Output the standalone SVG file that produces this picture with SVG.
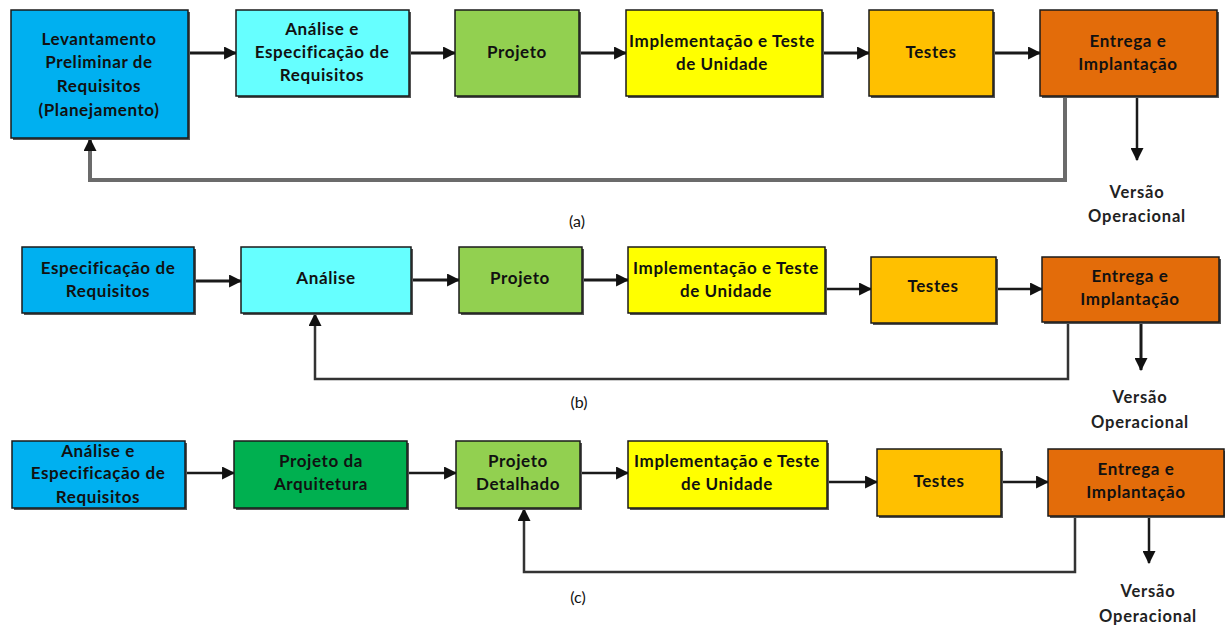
<svg xmlns="http://www.w3.org/2000/svg" width="1225" height="625" viewBox="0 0 1225 625">
  <style>
    .box { stroke: #1a1a1a; stroke-width: 1.5; }
    .shadow { fill: #555; }
    .lbl { font-family: Lato, "Liberation Sans", sans-serif; font-weight: 700; font-size: 17px; letter-spacing: 0.6px; fill: #111; text-anchor: middle; }
    .cap { font-family: Lato, "Liberation Sans", sans-serif; font-weight: 400; font-size: 16px; fill: #111; text-anchor: middle; }
    .out { font-family: Lato, "Liberation Sans", sans-serif; font-weight: 700; font-size: 16.5px; letter-spacing: 0.8px; fill: #222; text-anchor: middle; }
    .flow { fill: none; stroke: #1a1a1a; stroke-width: 3; marker-end: url(#arrow); }
    .flow2 { fill: none; stroke: #1a1a1a; stroke-width: 2.5; marker-end: url(#arrow); }
    .back { fill: none; stroke: #6b6b6b; stroke-width: 4; marker-end: url(#arrow); }
    .back2 { fill: none; stroke: #333; stroke-width: 2.5; marker-end: url(#arrow); }
    .c-blue { fill: #00B0F0; }
    .c-cyan { fill: #66FFFF; }
    .c-lgreen { fill: #92D050; }
    .c-green { fill: #00B050; }
    .c-yellow { fill: #FFFF00; }
    .c-amber { fill: #FFC000; }
    .c-orange { fill: #E36C0A; }
  </style>
  <defs>
    <marker id="arrow" viewBox="0 0 12 12" refX="11" refY="6" markerWidth="13" markerHeight="13" markerUnits="userSpaceOnUse" orient="auto">
      <path d="M0,0 L12,6 L0,12 z" fill="#111"/>
    </marker>
  </defs>
  <rect width="1225" height="625" fill="#fff"/>

  <!-- connectors -->
  <g id="connectors">
    <!-- row a -->
    <path class="flow" d="M188,53 H236"/>
    <path class="flow" d="M409,53 H455"/>
    <path class="flow" d="M579,53 H626"/>
    <path class="flow" d="M822,53 H869"/>
    <path class="flow" d="M993,53 H1040"/>
    <path class="back" d="M1065,96 V180 H90 V139"/>
    <path class="flow2" d="M1137,96 V160"/>
    <!-- row b -->
    <path class="flow" d="M194,281 H241"/>
    <path class="flow" d="M411,280 H459"/>
    <path class="flow" d="M582,280 H628"/>
    <path class="flow2" d="M825,289 H871"/>
    <path class="flow2" d="M996,289 H1042"/>
    <path class="back2" d="M1068,323 V379 H315 V314"/>
    <path class="flow" d="M1141,323 V370"/>
    <!-- row c -->
    <path class="flow2" d="M185,473 H234"/>
    <path class="flow2" d="M407,473 H456"/>
    <path class="flow2" d="M580,473 H628"/>
    <path class="flow2" d="M827,482 H877"/>
    <path class="flow2" d="M1001,482 H1048"/>
    <path class="back2" d="M1075,517 V572 H524 V509"/>
    <path class="flow2" d="M1149,517 V563"/>
  </g>

  <!-- row a -->
  <g id="a-levantamento">
    <rect class="shadow" x="13" y="12" width="177" height="128"/>
    <rect class="box c-blue" x="11" y="10" width="177" height="128"/>
    <text class="lbl" x="99" y="45">Levantamento</text>
    <text class="lbl" x="99" y="68">Preliminar de</text>
    <text class="lbl" x="99" y="92">Requisitos</text>
    <text class="lbl" x="99" y="116">(Planejamento)</text>
  </g>
  <g id="a-analise">
    <rect class="shadow" x="238" y="12" width="173" height="86"/>
    <rect class="box c-cyan" x="236" y="10" width="173" height="86"/>
    <text class="lbl" x="322" y="35">Análise e</text>
    <text class="lbl" x="322" y="58">Especificação de</text>
    <text class="lbl" x="322" y="81">Requisitos</text>
  </g>
  <g id="a-projeto">
    <rect class="shadow" x="457" y="12" width="124" height="86"/>
    <rect class="box c-lgreen" x="455" y="10" width="124" height="86"/>
    <text class="lbl" x="517" y="58">Projeto</text>
  </g>
  <g id="a-implementacao">
    <rect class="shadow" x="628" y="12" width="196" height="86"/>
    <rect class="box c-yellow" x="626" y="10" width="196" height="86"/>
    <text class="lbl" x="722" y="47">Implementação e Teste</text>
    <text class="lbl" x="722" y="70">de Unidade</text>
  </g>
  <g id="a-testes">
    <rect class="shadow" x="871" y="12" width="124" height="86"/>
    <rect class="box c-amber" x="869" y="10" width="124" height="86"/>
    <text class="lbl" x="931" y="58">Testes</text>
  </g>
  <g id="a-entrega">
    <rect class="shadow" x="1042" y="12" width="177" height="86"/>
    <rect class="box c-orange" x="1040" y="10" width="177" height="86"/>
    <text class="lbl" x="1128" y="47">Entrega e</text>
    <text class="lbl" x="1128" y="70">Implantação</text>
  </g>
  <g id="a-versao">
    <text class="out" x="1137" y="198">Versão</text>
    <text class="out" x="1137" y="222">Operacional</text>
  </g>
  <text class="cap" x="577" y="227">(a)</text>

  <!-- row b -->
  <g id="b-especificacao">
    <rect class="shadow" x="24" y="249" width="172" height="66"/>
    <rect class="box c-blue" x="22" y="247" width="172" height="66"/>
    <text class="lbl" x="108" y="274">Especificação de</text>
    <text class="lbl" x="108" y="297">Requisitos</text>
  </g>
  <g id="b-analise">
    <rect class="shadow" x="243" y="249" width="170" height="66"/>
    <rect class="box c-cyan" x="241" y="247" width="170" height="66"/>
    <text class="lbl" x="326" y="284">Análise</text>
  </g>
  <g id="b-projeto">
    <rect class="shadow" x="461" y="249" width="123" height="66"/>
    <rect class="box c-lgreen" x="459" y="247" width="123" height="66"/>
    <text class="lbl" x="520" y="284">Projeto</text>
  </g>
  <g id="b-implementacao">
    <rect class="shadow" x="630" y="249" width="197" height="66"/>
    <rect class="box c-yellow" x="628" y="247" width="197" height="66"/>
    <text class="lbl" x="726" y="274">Implementação e Teste</text>
    <text class="lbl" x="726" y="297">de Unidade</text>
  </g>
  <g id="b-testes">
    <rect class="shadow" x="873" y="259" width="125" height="66"/>
    <rect class="box c-amber" x="871" y="257" width="125" height="66"/>
    <text class="lbl" x="933" y="292">Testes</text>
  </g>
  <g id="b-entrega">
    <rect class="shadow" x="1044" y="259" width="177" height="65"/>
    <rect class="box c-orange" x="1042" y="257" width="177" height="65"/>
    <text class="lbl" x="1130" y="282">Entrega e</text>
    <text class="lbl" x="1130" y="305">Implantação</text>
  </g>
  <g id="b-versao">
    <text class="out" x="1140" y="403">Versão</text>
    <text class="out" x="1140" y="428">Operacional</text>
  </g>
  <text class="cap" x="579" y="408">(b)</text>

  <!-- row c -->
  <g id="c-analise">
    <rect class="shadow" x="14" y="443" width="173" height="67"/>
    <rect class="box c-blue" x="12" y="441" width="173" height="67"/>
    <text class="lbl" x="98" y="457">Análise e</text>
    <text class="lbl" x="98" y="479">Especificação de</text>
    <text class="lbl" x="98" y="503">Requisitos</text>
  </g>
  <g id="c-arquitetura">
    <rect class="shadow" x="236" y="443" width="173" height="67"/>
    <rect class="box c-green" x="234" y="441" width="173" height="67"/>
    <text class="lbl" x="321" y="467">Projeto da</text>
    <text class="lbl" x="321" y="490">Arquitetura</text>
  </g>
  <g id="c-detalhado">
    <rect class="shadow" x="458" y="443" width="124" height="67"/>
    <rect class="box c-lgreen" x="456" y="441" width="124" height="67"/>
    <text class="lbl" x="518" y="467">Projeto</text>
    <text class="lbl" x="518" y="490">Detalhado</text>
  </g>
  <g id="c-implementacao">
    <rect class="shadow" x="630" y="443" width="199" height="67"/>
    <rect class="box c-yellow" x="628" y="441" width="199" height="67"/>
    <text class="lbl" x="727" y="467">Implementação e Teste</text>
    <text class="lbl" x="727" y="490">de Unidade</text>
  </g>
  <g id="c-testes">
    <rect class="shadow" x="879" y="451" width="124" height="67"/>
    <rect class="box c-amber" x="877" y="449" width="124" height="67"/>
    <text class="lbl" x="939" y="487">Testes</text>
  </g>
  <g id="c-entrega">
    <rect class="shadow" x="1050" y="451" width="176" height="67"/>
    <rect class="box c-orange" x="1048" y="449" width="176" height="67"/>
    <text class="lbl" x="1136" y="475">Entrega e</text>
    <text class="lbl" x="1136" y="498">Implantação</text>
  </g>
  <g id="c-versao">
    <text class="out" x="1148" y="597">Versão</text>
    <text class="out" x="1148" y="622">Operacional</text>
  </g>
  <text class="cap" x="578" y="603">(c)</text>
</svg>
